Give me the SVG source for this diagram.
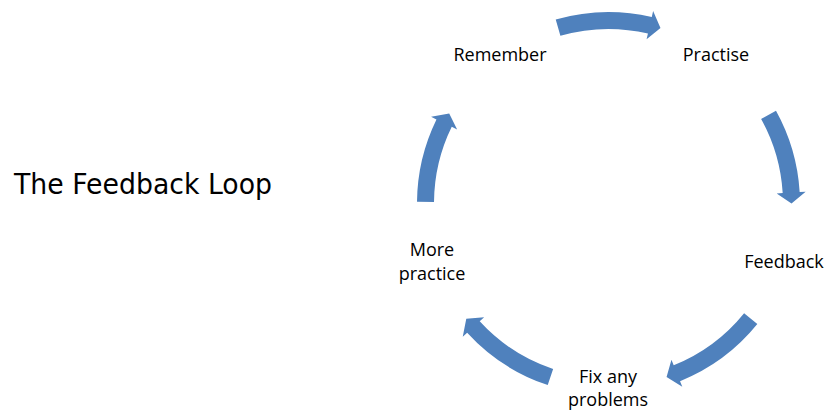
<svg xmlns="http://www.w3.org/2000/svg" xmlns:xlink="http://www.w3.org/1999/xlink" width="824" height="411" viewBox="0 0 824 411">
  <style>
    .lbl { font-family: "Open Sans", "Liberation Sans", sans-serif; font-size: 18px; fill: #000; text-anchor: middle; }
    .title { font-family: "DejaVu Sans", "Liberation Sans", sans-serif; font-size: 28px; fill: #000; }
    .arrow { fill: #4F81BD; }
  </style>
  <defs>
    <!-- curved block arrows on a ring of radius 183, drawn from angle 0 clockwise -->
    <path id="arc-long" d="M191.5,0 A191.5,191.5 0 0 1 167.39,93.02 L172.64,95.93 L154.34,98.33 L147.29,81.85 L152.53,84.76 A174.5,174.5 0 0 0 174.5,0 Z"/>
    <path id="arc-short" d="M191.5,0 A191.5,191.5 0 0 1 172.76,82.62 L178.17,85.21 L160.06,88.72 L152.01,72.70 L157.42,75.29 A174.5,174.5 0 0 0 174.5,0 Z"/>
  </defs>

  <rect width="824" height="411" fill="#fff"/>

  <text class="title" x="14" y="194" textLength="258" lengthAdjust="spacingAndGlyphs">The Feedback Loop</text>

  <g id="connectors" class="arrow">
    <use xlink:href="#arc-long" transform="translate(608.5,203.5) rotate(-106)"/>
    <use xlink:href="#arc-short" transform="translate(608.5,203.5) rotate(-29)"/>
    <use xlink:href="#arc-long" transform="translate(608.5,203.5) rotate(39)"/>
    <use xlink:href="#arc-long" transform="translate(608.5,203.5) rotate(108.5)"/>
    <use xlink:href="#arc-short" transform="translate(608.5,203.5) rotate(180.5)"/>
  </g>

  <g id="node-remember">
    <text class="lbl" x="500" y="61">Remember</text>
  </g>
  <g id="node-practise">
    <text class="lbl" x="716" y="61">Practise</text>
  </g>
  <g id="node-feedback">
    <text class="lbl" x="784" y="268">Feedback</text>
  </g>
  <g id="node-fix">
    <text class="lbl" x="608" y="383">Fix any</text>
    <text class="lbl" x="608" y="406">problems</text>
  </g>
  <g id="node-more">
    <text class="lbl" x="432" y="256">More</text>
    <text class="lbl" x="432" y="280">practice</text>
  </g>
</svg>
